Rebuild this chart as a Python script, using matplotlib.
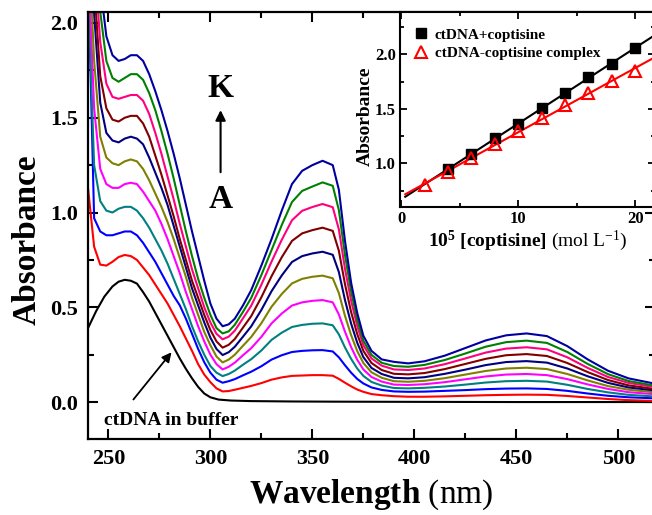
import matplotlib
matplotlib.use('Agg')
import matplotlib.pyplot as plt
import numpy as np
from matplotlib.ticker import MultipleLocator, FormatStrFormatter

plt.rcParams['font.family'] = ['Liberation Serif', 'DejaVu Serif']
plt.rcParams['mathtext.fontset'] = 'custom'
plt.rcParams['mathtext.rm'] = 'Liberation Serif'
plt.rcParams['mathtext.bf'] = 'Liberation Serif:bold'
plt.rcParams['mathtext.it'] = 'Liberation Serif:italic'

# ---------------- data: main spectra ----------------
wavelength = [240, 243, 246, 249, 252, 255, 258, 261, 264, 267,
              270, 273, 276, 279, 282, 285, 288, 291, 294, 297,
              300, 303, 306, 309, 312, 316, 320, 325, 330, 335,
              340, 345, 350, 355, 360, 363, 366, 369, 372, 375,
              379, 384, 390, 397, 405, 415, 425, 435, 445, 455,
              465, 475, 485, 495, 505, 517]

spec_B = [1.13, 0.82, 0.725, 0.72, 0.74, 0.765, 0.776, 0.77, 0.75, 0.71,
          0.67, 0.62, 0.57, 0.52, 0.46, 0.40, 0.335, 0.27, 0.20, 0.145,
          0.105, 0.072, 0.056, 0.058, 0.065, 0.075, 0.085, 0.100, 0.118, 0.130,
          0.138, 0.140, 0.142, 0.142, 0.139, 0.122, 0.102, 0.083, 0.066, 0.054,
          0.042, 0.036, 0.031, 0.028, 0.028, 0.030, 0.033, 0.036, 0.038, 0.039,
          0.038, 0.032, 0.024, 0.016, 0.010, 0.006]
spec_C = [2.3, 0.97, 0.90, 0.88, 0.88, 0.89, 0.90, 0.90, 0.88, 0.84,
          0.79, 0.74, 0.68, 0.62, 0.56, 0.51, 0.44, 0.36, 0.28, 0.21,
          0.155, 0.118, 0.102, 0.110, 0.121, 0.141, 0.160, 0.189, 0.224, 0.247,
          0.264, 0.270, 0.273, 0.274, 0.267, 0.236, 0.194, 0.155, 0.122, 0.098,
          0.077, 0.064, 0.056, 0.054, 0.055, 0.059, 0.063, 0.068, 0.071, 0.072,
          0.069, 0.059, 0.045, 0.033, 0.025, 0.020]
spec_D = [2.2, 1.25, 1.06, 1.01, 1.00, 1.02, 1.03, 1.03, 1.01, 0.97,
          0.92, 0.86, 0.80, 0.73, 0.65, 0.57, 0.49, 0.40, 0.32, 0.25,
          0.19, 0.155, 0.137, 0.148, 0.166, 0.197, 0.226, 0.272, 0.328, 0.366,
          0.396, 0.407, 0.413, 0.415, 0.405, 0.357, 0.288, 0.228, 0.177, 0.138,
          0.106, 0.087, 0.074, 0.072, 0.075, 0.082, 0.092, 0.103, 0.110, 0.112,
          0.108, 0.091, 0.069, 0.051, 0.038, 0.030]
spec_E = [2.35, 1.55, 1.23, 1.15, 1.13, 1.13, 1.15, 1.157, 1.15, 1.11,
          1.06, 1.01, 0.94, 0.86, 0.77, 0.68, 0.58, 0.49, 0.40, 0.32,
          0.25, 0.20, 0.172, 0.186, 0.208, 0.247, 0.284, 0.344, 0.415, 0.467,
          0.509, 0.526, 0.534, 0.538, 0.526, 0.462, 0.371, 0.290, 0.223, 0.172,
          0.132, 0.108, 0.092, 0.090, 0.094, 0.105, 0.120, 0.135, 0.145, 0.148,
          0.142, 0.121, 0.093, 0.069, 0.052, 0.042]
spec_F = [2.5, 1.80, 1.40, 1.29, 1.26, 1.25, 1.27, 1.28, 1.27, 1.23,
          1.17, 1.10, 1.03, 0.95, 0.86, 0.76, 0.66, 0.55, 0.46, 0.37,
          0.30, 0.24, 0.209, 0.224, 0.250, 0.297, 0.343, 0.416, 0.503, 0.570,
          0.626, 0.650, 0.661, 0.667, 0.653, 0.575, 0.455, 0.353, 0.269, 0.206,
          0.157, 0.128, 0.110, 0.107, 0.112, 0.126, 0.145, 0.164, 0.177, 0.181,
          0.174, 0.148, 0.114, 0.084, 0.065, 0.052]
spec_G = [2.7, 2.05, 1.58, 1.42, 1.38, 1.37, 1.39, 1.40, 1.39, 1.36,
          1.29, 1.21, 1.13, 1.04, 0.93, 0.82, 0.71, 0.60, 0.51, 0.42,
          0.34, 0.28, 0.248, 0.263, 0.292, 0.345, 0.399, 0.486, 0.585, 0.668,
          0.739, 0.770, 0.784, 0.793, 0.777, 0.686, 0.538, 0.414, 0.313, 0.237,
          0.180, 0.148, 0.128, 0.125, 0.131, 0.149, 0.171, 0.195, 0.211, 0.216,
          0.208, 0.177, 0.136, 0.101, 0.077, 0.062]
spec_H = [2.9, 2.2, 1.72, 1.55, 1.49, 1.48, 1.50, 1.51, 1.51, 1.47,
          1.40, 1.30, 1.20, 1.09, 0.98, 0.86, 0.75, 0.64, 0.55, 0.46,
          0.38, 0.32, 0.287, 0.302, 0.333, 0.393, 0.453, 0.553, 0.664, 0.764,
          0.850, 0.890, 0.907, 0.920, 0.903, 0.798, 0.622, 0.475, 0.359, 0.270,
          0.206, 0.169, 0.149, 0.146, 0.153, 0.174, 0.201, 0.228, 0.247, 0.253,
          0.243, 0.206, 0.158, 0.116, 0.088, 0.070]
spec_I = [3.1, 2.35, 1.90, 1.68, 1.61, 1.60, 1.61, 1.62, 1.62, 1.59,
          1.52, 1.42, 1.31, 1.19, 1.07, 0.94, 0.82, 0.70, 0.60, 0.50,
          0.42, 0.36, 0.331, 0.345, 0.377, 0.442, 0.508, 0.619, 0.741, 0.856,
          0.959, 1.009, 1.029, 1.045, 1.028, 0.911, 0.703, 0.535, 0.402, 0.300,
          0.230, 0.192, 0.172, 0.169, 0.177, 0.200, 0.230, 0.261, 0.282, 0.289,
          0.278, 0.236, 0.180, 0.132, 0.101, 0.080]
spec_J = [3.3, 2.5, 2.06, 1.80, 1.71, 1.69, 1.71, 1.73, 1.73, 1.70,
          1.63, 1.54, 1.43, 1.31, 1.18, 1.04, 0.90, 0.77, 0.65, 0.55,
          0.46, 0.39, 0.362, 0.373, 0.408, 0.476, 0.549, 0.670, 0.802, 0.934,
          1.055, 1.114, 1.137, 1.159, 1.141, 1.013, 0.776, 0.585, 0.435, 0.324,
          0.249, 0.207, 0.190, 0.186, 0.196, 0.222, 0.256, 0.292, 0.316, 0.324,
          0.312, 0.264, 0.201, 0.147, 0.111, 0.088]
spec_K = [3.5, 2.7, 2.2, 1.93, 1.83, 1.80, 1.81, 1.83, 1.83, 1.80,
          1.73, 1.64, 1.54, 1.43, 1.31, 1.18, 1.04, 0.90, 0.77, 0.64,
          0.52, 0.44, 0.40, 0.41, 0.44, 0.51, 0.59, 0.72, 0.86, 1.01,
          1.15, 1.22, 1.25, 1.273, 1.25, 1.12, 0.85, 0.63, 0.47, 0.35,
          0.27, 0.225, 0.212, 0.204, 0.215, 0.245, 0.285, 0.325, 0.352, 0.362,
          0.348, 0.295, 0.225, 0.165, 0.125, 0.099]

wavelength_dna = [240, 244, 248, 252, 255, 258, 261, 264, 267, 270, 273, 276, 279,
                  282, 285, 288, 291, 294, 297, 300, 304, 310, 320, 340, 360, 400, 450, 517]
spec_dna = [0.39, 0.48, 0.556, 0.61, 0.635, 0.645, 0.64, 0.625, 0.58, 0.53, 0.47, 0.41, 0.35,
            0.29, 0.23, 0.175, 0.125, 0.08, 0.045, 0.025, 0.013, 0.008, 0.005, 0.003, 0.002,
            0.001, 0.0, 0.0]

colors = ['#FF0000', '#0000FF', '#008080', '#FF00FF', '#808000',
          '#000080', '#800000', '#FF0080', '#008000', '#0000A0']

# ---------------- data: inset ----------------
conc_mix = [4, 6, 8, 10, 12, 14, 16, 18, 20]
abs_mix = [0.945, 1.083, 1.231, 1.363, 1.508, 1.646, 1.791, 1.917, 2.055]
conc_cpx = [2, 4, 6, 8, 10, 12, 14, 16, 18, 20]
abs_cpx = [0.80, 0.92, 1.052, 1.178, 1.298, 1.415, 1.532, 1.646, 1.754, 1.852]

# ---------------- figure ----------------
W, H = 652, 515
fig = plt.figure(figsize=(W / 100, H / 100), dpi=100)
ax = fig.add_axes([88 / W, (H - 439) / H, (655 - 88) / W, (439 - 12) / H])

ax.plot(wavelength_dna, spec_dna, color='black', lw=1.5)
for s, c in zip([spec_B, spec_C, spec_D, spec_E, spec_F, spec_G, spec_H, spec_I, spec_J, spec_K], colors):
    ax.plot(wavelength, s, color=c, lw=1.5)

ax.set_xlim(240, 518)
ax.set_ylim(-0.195, 2.058)
ax.xaxis.set_major_locator(MultipleLocator(50))
ax.xaxis.set_minor_locator(MultipleLocator(25))
ax.yaxis.set_major_locator(MultipleLocator(0.5))
ax.yaxis.set_minor_locator(MultipleLocator(0.25))
ax.yaxis.set_major_formatter(FormatStrFormatter('%.1f'))
ax.tick_params(which='both', direction='in', top=True, right=True, width=1.5)
ax.tick_params(which='major', length=7, labelsize=16, pad=7)
ax.tick_params(which='minor', length=4)
for lbl in ax.get_xticklabels() + ax.get_yticklabels():
    lbl.set_fontweight('bold')
for sp in ax.spines.values():
    sp.set_linewidth(1.6)

ax.set_xlabel(r'$\mathbf{Wavelength}$ (nm)', fontsize=24, labelpad=6)
fig.text(27 / W, 1 - 240 / H, 'Absorbance', rotation=90, ha='center', va='center',
         fontsize=24, fontweight='bold')

ax.text(305, 1.652, 'K', ha='center', va='center', fontsize=24, fontweight='bold')
ax.text(305, 1.071, 'A', ha='center', va='center', fontsize=24, fontweight='bold')
ax.annotate('', xy=(305, 1.555), xytext=(305, 1.198),
            arrowprops=dict(arrowstyle='-|>', color='black', lw=1.5, mutation_scale=15))
ax.text(280.9, -0.095, 'ctDNA in buffer', ha='center', va='center', fontsize=14, fontweight='bold')
ax.annotate('', xy=(281.8, 0.274), xytext=(261.4, 0.002),
            arrowprops=dict(arrowstyle='-|>', color='black', lw=1.3, mutation_scale=14))

# ---------------- inset ----------------
ax2 = fig.add_axes([400 / W, (H - 207) / H, (655 - 400) / W, (207 - 12) / H])
ax2.set_xlim(-0.1, 21.7)
ax2.set_ylim(0.6, 2.39)
xf = np.array([0.35, 21.7])
kb = np.polyfit(conc_mix, abs_mix, 1)
kr = np.polyfit(conc_cpx, abs_cpx, 1)
ax2.plot(xf, np.polyval(kb, xf), color='black', lw=1.5)
ax2.plot(xf, np.polyval(kr, xf), color='red', lw=1.5)
ax2.plot(conc_mix, abs_mix, 's', color='black', ms=6.5, label='ctDNA+coptisine')
ax2.plot(conc_cpx, abs_cpx, '^', mfc='none', mec='red', mew=1.5, ms=9,
         label='ctDNA-coptisine complex')
leg = ax2.legend(loc='upper left', bbox_to_anchor=(0.01, 0.965), frameon=False,
                 prop={'size': 11, 'weight': 'bold'}, handlelength=1.2,
                 handletextpad=0.3, borderaxespad=0.2, labelspacing=0.3)
ax2.xaxis.set_major_locator(MultipleLocator(10))
ax2.xaxis.set_minor_locator(MultipleLocator(5))
ax2.yaxis.set_major_locator(MultipleLocator(0.5))
ax2.yaxis.set_minor_locator(MultipleLocator(0.25))
ax2.yaxis.set_major_formatter(FormatStrFormatter('%.1f'))
ax2.tick_params(which='both', direction='in', top=True, right=True, width=1.3)
ax2.tick_params(which='major', length=5, labelsize=12, pad=3)
ax2.tick_params(which='minor', length=3)
for lbl in ax2.get_xticklabels() + ax2.get_yticklabels():
    lbl.set_fontweight('bold')
for sp in ax2.spines.values():
    sp.set_linewidth(1.5)
ax2.set_xlabel(r'$\mathbf{10^5\ [coptisine]}$ (mol L$^{-1}$)', fontsize=14, labelpad=1)
fig.text(365 / W, 1 - 116 / H, 'Absorbance', rotation=90, ha='center', va='center',
         fontsize=14, fontweight='bold')

fig.savefig('out.png', dpi=100)
